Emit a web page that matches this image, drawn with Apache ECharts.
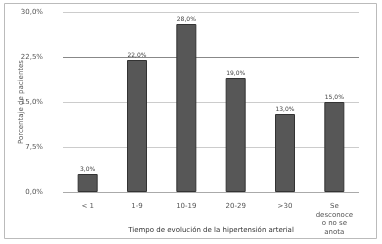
<!DOCTYPE html>
<html><head><meta charset="utf-8">
<script src="https://cdn.jsdelivr.net/npm/echarts@6/dist/echarts.min.js"></script>
<style>html,body{margin:0;padding:0;background:#fff}#c{width:382px;height:244px}</style>
</head><body><div id="c"></div>
<script>
var categories = ['< 1', '1-9', '10-19', '20-29', '>30', 'Se\ndesconoce\no no se\nanota'];
var values = [3.0, 22.0, 28.0, 19.0, 13.0, 15.0];
var yTicks = [0, 7.5, 15, 22.5, 30];
var yName = 'Porcentaje de pacientes';
var xName = 'Tiempo de evolución de la hipertensión arterial';

var fmt = function (v) { return v.toFixed(1).replace('.', ',') + '%'; };
var chart = echarts.init(document.getElementById('c'), null, {renderer: 'canvas'});
chart.setOption({
  animation: false,
  backgroundColor: '#fff',
  textStyle: {fontFamily: 'DejaVu Sans'},
  graphic: [{
    type: 'rect', shape: {x: 4.5, y: 3.5, width: 372, height: 235},
    style: {fill: 'none', stroke: '#bbb', lineWidth: 1}, silent: true
  }],
  grid: {left: 63, right: 23, top: 12, bottom: 52, outerBoundsMode: 'none', containLabel: false},
  xAxis: {
    type: 'category', data: categories,
    axisLine: {show: false}, axisTick: {show: false},
    axisLabel: {color: '#555', fontSize: 7, margin: 10, lineHeight: 8.5, interval: 0},
    name: xName, nameLocation: 'middle', nameGap: 35, nameMoveOverlap: false,
    nameTextStyle: {color: '#333', fontSize: 7}
  },
  yAxis: {
    type: 'value', min: 0, max: 30, interval: 7.5,
    axisLine: {show: false}, axisTick: {show: false},
    axisLabel: {color: '#555', fontSize: 7, margin: 20, formatter: function (v) { return fmt(v); }},
    splitLine: {lineStyle: {color: ['#aaa', '#ccc', '#ccc', '#888', '#ccc'], width: 1}},
    name: yName, nameLocation: 'middle', nameGap: 38, nameMoveOverlap: false,
    nameTextStyle: {color: '#555', fontSize: 7}
  },
  series: [{
    type: 'bar', data: values, barWidth: 20,
    itemStyle: {color: '#575757', borderColor: '#333', borderWidth: 1},
    label: {show: true, position: 'top', distance: 2, color: '#444', fontSize: 6,
      formatter: function (p) { return fmt(p.value); }}
  }]
});
</script></body></html>
